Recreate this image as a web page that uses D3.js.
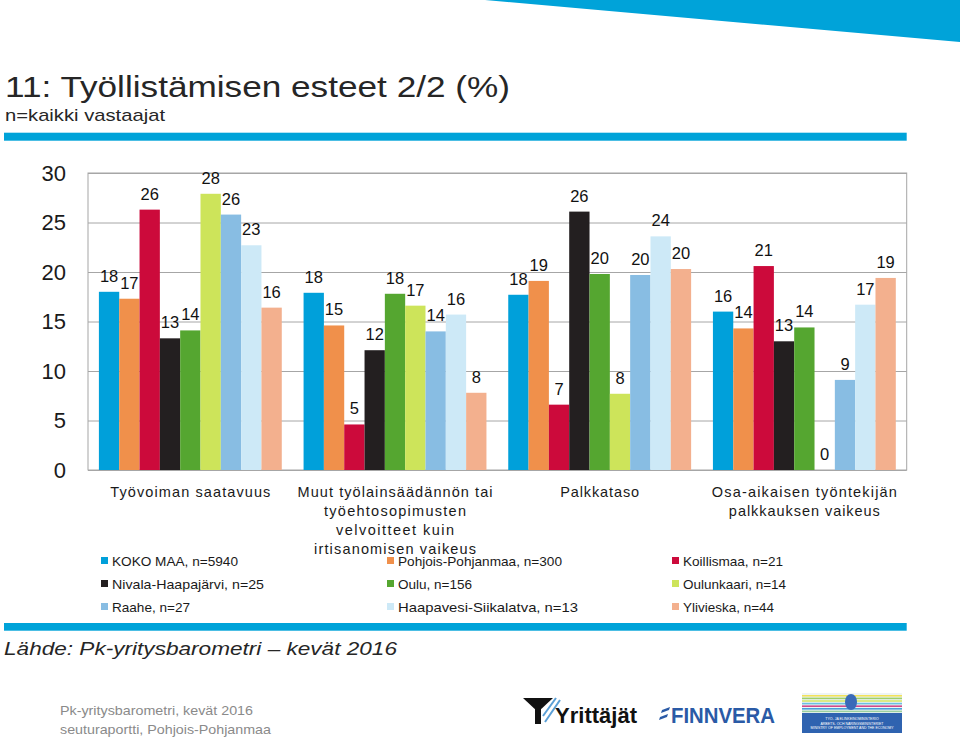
<!DOCTYPE html>
<html>
<head>
<meta charset="utf-8">
<script src="https://cdn.jsdelivr.net/npm/d3@7"></script>
<style>
  html, body { margin: 0; padding: 0; background: #fff; }
  svg { display: block; font-family: "Liberation Sans", Arial, sans-serif; }
</style>
</head>
<body>
<svg id="chart" width="960" height="738"></svg>
<script>
// ---------- data ----------
const categories = [
  "Työvoiman saatavuus",
  "Muut työlainsäädännön tai\ntyöehtosopimusten\nvelvoitteet kuin\nirtisanomisen vaikeus",
  "Palkkataso",
  "Osa-aikaisen työntekijän\npalkkauksen vaikeus"
];
const seriesNames = [
  "KOKO MAA, n=5940", "Pohjois-Pohjanmaa, n=300", "Koillismaa, n=21",
  "Nivala-Haapajärvi, n=25", "Oulu, n=156", "Oulunkaari, n=14",
  "Raahe, n=27", "Haapavesi-Siikalatva, n=13", "Ylivieska, n=44"
];
const seriesColors = [
  "#00a0da", "#f0904b", "#cc0a3b",
  "#231f20", "#55a630", "#cde45a",
  "#88bde3", "#cde9f7", "#f3b08e"
];
// values per series, one entry per category
const kokoMaa          = [18.0, 17.9, 17.7, 16.0];
const pohjoisPohjanmaa = [17.3, 14.6, 19.1, 14.3];
const koillismaa       = [26.3,  4.6,  6.6, 20.6];
const nivalaHaapajarvi = [13.3, 12.1, 26.1, 13.0];
const oulu             = [14.1, 17.8, 19.8, 14.4];
const oulunkaari       = [27.9, 16.6,  7.7,  0.0];
const raahe            = [25.8, 14.0, 19.7,  9.1];
const haapavesi        = [22.7, 15.7, 23.6, 16.7];
const ylivieska        = [16.4,  7.8, 20.3, 19.4];
const seriesValues = [kokoMaa, pohjoisPohjanmaa, koillismaa, nivalaHaapajarvi,
                      oulu, oulunkaari, raahe, haapavesi, ylivieska];
const yTicks = [0, 5, 10, 15, 20, 25, 30];

// ---------- layout ----------
const svg = d3.select("#chart");
const plot = { left: 88, right: 906.7, top: 173, bottom: 470 };

// decorative top-right wedge
svg.append("polygon")
  .attr("points", "485,0 960,0 960,42")
  .attr("fill", "#00a3d9");

// title
svg.append("text").attr("x", 5).attr("y", 97)
  .attr("font-size", 30).attr("fill", "#262626")
  .attr("textLength", 505).attr("lengthAdjust", "spacingAndGlyphs")
  .style("font-family", "'Liberation Sans Narrow','Liberation Sans',Arial,sans-serif")
  .text("11: Työllistämisen esteet 2/2 (%)");
svg.append("text").attr("x", 5).attr("y", 121)
  .attr("font-size", 17).attr("fill", "#262626")
  .attr("textLength", 160).attr("lengthAdjust", "spacingAndGlyphs")
  .style("font-family", "'Liberation Sans Narrow','Liberation Sans',Arial,sans-serif")
  .text("n=kaikki vastaajat");

// blue rules
svg.append("rect").attr("x", 4).attr("y", 132.7).attr("width", 902.7).attr("height", 8).attr("fill", "#00a3d9");
svg.append("rect").attr("x", 4).attr("y", 623).attr("width", 902.7).attr("height", 7.7).attr("fill", "#00a3d9");

// scales
const y = d3.scaleLinear().domain([0, 30]).range([plot.bottom, plot.top]);
const x0 = d3.scaleBand().domain(d3.range(categories.length)).range([plot.left, plot.right]).padding(0);
const gap = 10.9;
const x1 = d3.scaleBand().domain(d3.range(seriesNames.length)).range([gap, x0.bandwidth() - gap]).padding(0);

// gridlines
const grid = svg.append("g").attr("transform", `translate(${plot.left},0)`)
  .call(d3.axisLeft(y).tickValues(yTicks).tickSize(-(plot.right - plot.left)).tickFormat(""));
grid.select(".domain").remove();
grid.selectAll("line").attr("stroke", "#a6a6a6").attr("stroke-width", 1);

// plot border
svg.append("rect")
  .attr("x", plot.left).attr("y", plot.top)
  .attr("width", plot.right - plot.left).attr("height", plot.bottom - plot.top)
  .attr("fill", "none").attr("stroke", "#a6a6a6").attr("stroke-width", 1);

// y axis labels
const yAxis = svg.append("g").attr("transform", `translate(${plot.left},0)`)
  .call(d3.axisLeft(y).tickValues(yTicks).tickSize(0).tickPadding(22));
yAxis.select(".domain").remove();
yAxis.selectAll("text").attr("font-size", 22).attr("fill", "#1a1a1a")
  .style("font-family", "'Liberation Sans',Arial,sans-serif");

// bars
const groups = svg.append("g").selectAll("g")
  .data(categories.map((c, i) => i))
  .join("g")
  .attr("transform", i => `translate(${x0(i)},0)`);

groups.selectAll("rect")
  .data(ci => seriesValues.map((vals, si) => ({ si, v: vals[ci] })))
  .join("rect")
  .attr("x", d => x1(d.si))
  .attr("width", x1.bandwidth())
  .attr("y", d => y(d.v))
  .attr("height", d => y(0) - y(d.v))
  .attr("fill", d => seriesColors[d.si]);

groups.selectAll("text.val")
  .data(ci => seriesValues.map((vals, si) => ({ si, v: vals[ci] })))
  .join("text")
  .attr("class", "val")
  .attr("x", d => x1(d.si) + x1.bandwidth() / 2)
  .attr("y", d => y(d.v) - 10)
  .attr("text-anchor", "middle")
  .attr("font-size", 16.5)
  .attr("fill", "#111")
  .text(d => d3.format(".0f")(d.v));

// category labels
const catWidths = [[160], [195, 142, 118, 162], [79], [185, 151]];
categories.forEach((c, i) => {
  const lines = c.split("\n");
  lines.forEach((ln, li) => {
    svg.append("text")
      .attr("x", x0(i) + x0.bandwidth() / 2)
      .attr("y", 497 + li * 19)
      .attr("text-anchor", "middle")
      .attr("font-size", 14.5)
      .attr("fill", "#1a1a1a")
      .attr("textLength", catWidths[i][li])
      .attr("lengthAdjust", "spacing")
      .text(ln);
  });
});

// legend
const legCols = [101, 387, 672];
const legRows = [566, 589, 612];
const legWidths = [126, 164, 100, 152, 74, 103, 78, 180, 91];
seriesNames.forEach((name, i) => {
  const cx = legCols[i % 3], cy = legRows[Math.floor(i / 3)];
  svg.append("rect").attr("x", cx).attr("y", cy - 9).attr("width", 7).attr("height", 7)
    .attr("fill", seriesColors[i]);
  svg.append("text").attr("x", cx + 11).attr("y", cy)
    .attr("font-size", 13.5).attr("fill", "#1a1a1a")
    .attr("textLength", legWidths[i]).attr("lengthAdjust", "spacingAndGlyphs")
    .text(name);
});

// source
svg.append("text").attr("x", 4).attr("y", 654.5)
  .attr("font-size", 19).attr("font-style", "italic").attr("fill", "#262626")
  .attr("textLength", 393).attr("lengthAdjust", "spacingAndGlyphs")
  .text("Lähde: Pk-yritysbarometri – kevät 2016");

// footer text
svg.append("text").attr("x", 60).attr("y", 715)
  .attr("font-size", 13.5).attr("fill", "#8a8a8a")
  .attr("textLength", 193).attr("lengthAdjust", "spacingAndGlyphs")
  .text("Pk-yritysbarometri, kevät 2016");
svg.append("text").attr("x", 60).attr("y", 734)
  .attr("font-size", 13.5).attr("fill", "#8a8a8a")
  .attr("textLength", 211).attr("lengthAdjust", "spacingAndGlyphs")
  .text("seuturaportti, Pohjois-Pohjanmaa");

// logos (approximations)
const logo = svg.append("g");
// Yrittäjät mark
logo.append("polygon").attr("points", "523,698 553,698 538,712").attr("fill", "#111");
logo.append("rect").attr("x", 535).attr("y", 708).attr("width", 6).attr("height", 16).attr("fill", "#111");
logo.append("line").attr("x1", 543).attr("y1", 716).attr("x2", 556).attr("y2", 698).attr("stroke", "#5a9fd6").attr("stroke-width", 2);
logo.append("line").attr("x1", 545).attr("y1", 722).attr("x2", 560).attr("y2", 700).attr("stroke", "#5a9fd6").attr("stroke-width", 2);
logo.append("text").attr("x", 555).attr("y", 723)
  .attr("font-size", 22).attr("font-weight", "bold").attr("fill", "#111")
  .attr("textLength", 82).attr("lengthAdjust", "spacingAndGlyphs")
  .text("Yrittäjät");
// Finnvera
logo.append("polygon").attr("points", "662,710 670,707 669,710 661,713").attr("fill", "#2a5aa6");
logo.append("polygon").attr("points", "660,717 668,714 667,717 659,720").attr("fill", "#2a5aa6");
logo.append("text").attr("x", 671).attr("y", 723)
  .attr("font-size", 22).attr("font-weight", "bold").attr("fill", "#2a5aa6")
  .attr("textLength", 104).attr("lengthAdjust", "spacingAndGlyphs")
  .text("FINNVERA");
// Ministry logo
logo.append("rect").attr("x", 802).attr("y", 693).attr("width", 100).attr("height", 40).attr("fill", "#eef4f6");
const stripeCols = ["#f2e25a", "#9ecf6a", "#d8e86a", "#6cc0e0", "#d04a8a", "#4aa0d8", "#9ad0a0"];
stripeCols.forEach((c, i) => {
  logo.append("rect").attr("x", 802).attr("y", 695 + i * 2.6).attr("width", 100).attr("height", 1.6).attr("fill", c);
});
logo.append("rect").attr("x", 802).attr("y", 713).attr("width", 100).attr("height", 20).attr("fill", "#2f63b0");
logo.append("ellipse").attr("cx", 851).attr("cy", 702).attr("rx", 6).attr("ry", 8).attr("fill", "#3a6ab8");
["TYÖ- JA ELINKEINOMINISTERIÖ", "ARBETS- OCH NÄRINGSMINISTERIET", "MINISTRY OF EMPLOYMENT AND THE ECONOMY"].forEach((t, i) => {
  logo.append("text").attr("x", 852).attr("y", 720 + i * 4.5)
    .attr("text-anchor", "middle").attr("font-size", 3.5).attr("fill", "#fff")
    .text(t);
});
</script>
</body>
</html>
